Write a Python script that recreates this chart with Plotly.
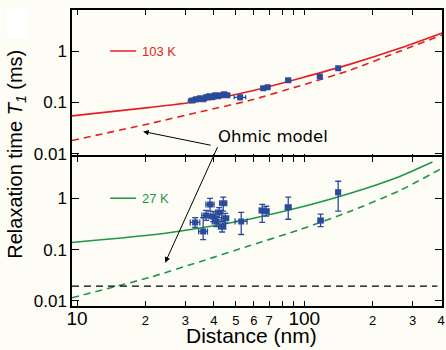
import plotly.graph_objects as go

# ---------------- data ----------------
# 103 K model curves
red_solid_d = [9.5, 21.0, 34.8, 57.8, 96.0, 159.4, 264.8, 405]
red_solid_t = [0.0544, 0.0798, 0.1046, 0.164, 0.296, 0.556, 1.145, 2.25]
red_dash_d = [9.5, 21.0, 34.8, 57.8, 96.0, 159.4, 264.8, 405]
red_dash_t = [0.018, 0.0387, 0.0652, 0.1095, 0.211, 0.424, 1.0, 2.06]

# 103 K measurements
top_d = [32.1, 33.4, 34.8, 35.9, 37.0, 38.1, 39.3, 40.6, 41.7, 43.1, 44.4, 45.8, 52.2, 66, 69, 85, 117, 141]
top_t = [0.109, 0.115, 0.12, 0.115, 0.125, 0.131, 0.125, 0.137, 0.131, 0.137, 0.143, 0.137, 0.125, 0.188, 0.196, 0.27, 0.32, 0.46]
top_dx = [1.2, 1.2, 1.2, 1.2, 1.2, 1.2, 1.2, 1.2, 1.2, 1.2, 1.2, 1.2, 3.0, 1.5, 1.5, 2.0, 2.5, 2.5]
top_dt = [0.006, 0.006, 0.006, 0.006, 0.006, 0.006, 0.006, 0.006, 0.006, 0.006, 0.006, 0.006, 0.012, 0.01, 0.01, 0.012, 0.015, 0.02]

# 27 K model curves
green_solid_d = [9.5, 21.0, 34.8, 57.8, 96.0, 159.4, 264.8, 366.4]
green_solid_t = [0.137, 0.192, 0.264, 0.396, 0.667, 1.253, 2.70, 5.08]
green_dash_d = [9.5, 21.0, 34.8, 57.8, 96.0, 159.4, 264.8, 405]
green_dash_t = [0.01145, 0.0289, 0.0582, 0.1198, 0.2466, 0.556, 1.435, 3.88]
black_dash_d = [9.5, 385]
black_dash_t = [0.0194, 0.0194]

# 27 K measurements
bot_d = [33.1, 35.9, 37.0, 38.5, 39.7, 41.0, 42.2, 43.5, 44.0, 44.9, 52.8, 65.3, 68, 85, 118, 141]
bot_t = [0.338, 0.225, 0.46, 0.76, 0.44, 0.354, 0.53, 0.28, 0.80, 0.41, 0.354, 0.58, 0.56, 0.67, 0.37, 1.31]
bot_hi = [0.42, 0.42, 0.58, 1.0, 0.55, 0.44, 0.66, 0.35, 1.05, 0.51, 0.53, 0.76, 0.70, 1.05, 0.49, 2.15]
bot_lo = [0.27, 0.157, 0.37, 0.56, 0.35, 0.28, 0.42, 0.22, 0.56, 0.33, 0.197, 0.34, 0.45, 0.39, 0.28, 0.56]
bot_dx = [1.6, 1.6, 1.6, 1.6, 1.6, 1.6, 1.6, 1.6, 1.6, 1.6, 3.2, 2.0, 2.0, 2.5, 3.0, 3.0]

x_tickvals = [10, 20, 30, 40, 50, 60, 70, 100, 200, 300, 400]
x_ticklabels = ["10", "2", "3", "4", "5", "6", "7", "100", "2", "3", "4"]
x_unlabeled_ticks = [80, 90]
y_tickvals = [0.01, 0.1, 1]
y_ticklabels = ["0.01", "0.1", "1"]

# ---------------- style ----------------
RED = "#e31e24"
GREEN = "#1e9648"
BLUE = "#2c4a9a"
BG = "#fdfdf5"
FONT = "Liberation Sans"

fig = go.Figure()

def line(d, t, color, dash, xa, ya):
    fig.add_trace(go.Scatter(x=d, y=t, mode="lines", xaxis=xa, yaxis=ya,
                             line=dict(color=color, width=1.6, dash=dash, shape="spline", smoothing=0.6),
                             showlegend=False, hoverinfo="skip"))

line(red_solid_d, red_solid_t, RED, "solid", "x", "y")
line(red_dash_d, red_dash_t, RED, "7px,5px", "x", "y")
line(green_solid_d, green_solid_t, GREEN, "solid", "x2", "y2")
line(green_dash_d, green_dash_t, GREEN, "7px,5px", "x2", "y2")
fig.add_trace(go.Scatter(x=black_dash_d, y=black_dash_t, mode="lines", xaxis="x2", yaxis="y2",
                         line=dict(color="black", width=1.4, dash="7px,5px"), showlegend=False))

fig.add_trace(go.Scatter(
    x=top_d, y=top_t, mode="markers", xaxis="x", yaxis="y",
    marker=dict(symbol="square", size=6, color=BLUE),
    error_x=dict(type="data", array=top_dx, color=BLUE, thickness=1.3, width=2),
    error_y=dict(type="data", array=top_dt, color=BLUE, thickness=1.3, width=2),
    showlegend=False))

fig.add_trace(go.Scatter(
    x=bot_d, y=bot_t, mode="markers", xaxis="x2", yaxis="y2",
    marker=dict(symbol="square", size=6, color=BLUE),
    error_x=dict(type="data", array=bot_dx, color=BLUE, thickness=1.3, width=3),
    error_y=dict(type="data", symmetric=False,
                 array=[h - t for h, t in zip(bot_hi, bot_t)],
                 arrayminus=[t - l for l, t in zip(bot_lo, bot_t)],
                 color=BLUE, thickness=1.3, width=3),
    showlegend=False))

ticktext = [lab if lab in ("10", "100") else f"<span style='font-size:13px'>{lab}</span>" for lab in x_ticklabels]

xcommon = dict(type="log", range=[0.978, 2.606], showline=True, linecolor="black", linewidth=1.5,
               mirror="ticks", ticks="inside", ticklen=5, tickwidth=1.2, tickcolor="black",
               tickvals=x_tickvals, ticktext=ticktext, showgrid=False, zeroline=False,
               minor=dict(tickmode="array", tickvals=x_unlabeled_ticks, ticks="inside", ticklen=5,
                          tickwidth=1.2, tickcolor="black", showgrid=False),
               tickangle=0, automargin=False,
               tickfont=dict(family=FONT, size=19, color="black"))
ycommon = dict(type="log", range=[-2.1, 0.8], showline=True, linecolor="black", linewidth=1.5,
               mirror="ticks", ticks="inside", ticklen=7, tickwidth=1.2, tickcolor="black",
               tickvals=y_tickvals, ticktext=y_ticklabels, showgrid=False, zeroline=False,
               automargin=False,
               tickfont=dict(family=FONT, size=17, color="black"))

fig.update_layout(
    xaxis=dict(**xcommon, anchor="y", showticklabels=False),
    xaxis2=dict(**xcommon, anchor="y2"),
    yaxis=dict(**ycommon, anchor="x", domain=[0.4975, 1.0]),
    yaxis2=dict(**ycommon, anchor="x2", domain=[0.0, 0.5025]),
)
try:
    fig.layout.xaxis2.ticklabelstandoff = -6
except Exception:
    pass

# legend-like labels
for xref, yref, color, label in (("x", "y", RED, "103 K"), ("x2", "y2", GREEN, "27 K")):
    fig.add_shape(type="line", xref=xref, yref=yref, x0=14.0, x1=18.2, y0=1, y1=1,
                  line=dict(color=color, width=1.6))
    fig.add_annotation(xref=xref, yref=yref, x=1.279, y=0, text=label, showarrow=False,
                       xanchor="left", yanchor="middle",
                       font=dict(family=FONT, size=13, color=color))

# Ohmic model label and arrows
fig.add_annotation(xref="paper", yref="paper", x=0.543, y=0.571, text="Ohmic model",
                   showarrow=False, xanchor="center", yanchor="middle",
                   font=dict(family="DejaVu Sans", size=16.5, color="black"))
fig.add_annotation(xref="x", yref="y", x=1.291, y=-1.569, ax=69, ay=14, text="",
                   showarrow=True, arrowhead=2, arrowsize=1.1, arrowwidth=1, arrowcolor="black")
fig.add_annotation(xref="x2", yref="y2", x=1.388, y=-1.255, ax=53, ay=-117, text="",
                   showarrow=True, arrowhead=2, arrowsize=1.1, arrowwidth=1, arrowcolor="black")

# axis titles
fig.add_annotation(xref="paper", yref="paper", x=-0.149, y=0.514, textangle=-90,
                   text="Relaxation time <i>T</i><sub><i>1</i></sub> (ms)", showarrow=False,
                   xanchor="center", yanchor="middle",
                   font=dict(family=FONT, size=20, color="black"))
fig.add_annotation(xref="paper", yref="paper", x=0.486, y=-0.1, text="Distance (nm)",
                   showarrow=False, xanchor="center", yanchor="middle",
                   font=dict(family=FONT, size=21, color="black"))

# white patch in the top-left corner
fig.add_shape(type="rect", xref="paper", yref="paper", x0=-0.1757, x1=-0.119, y0=0.905, y1=1.007,
              fillcolor="white", line=dict(width=0), layer="below")

fig.update_layout(width=446, height=350, margin=dict(l=72, r=4, t=10, b=44),
                  paper_bgcolor=BG, plot_bgcolor=BG, showlegend=False)

fig.write_html("out.html", config={"displayModeBar": False},
               post_script="document.body.style.margin='0';document.body.style.background='" + BG + "';")
